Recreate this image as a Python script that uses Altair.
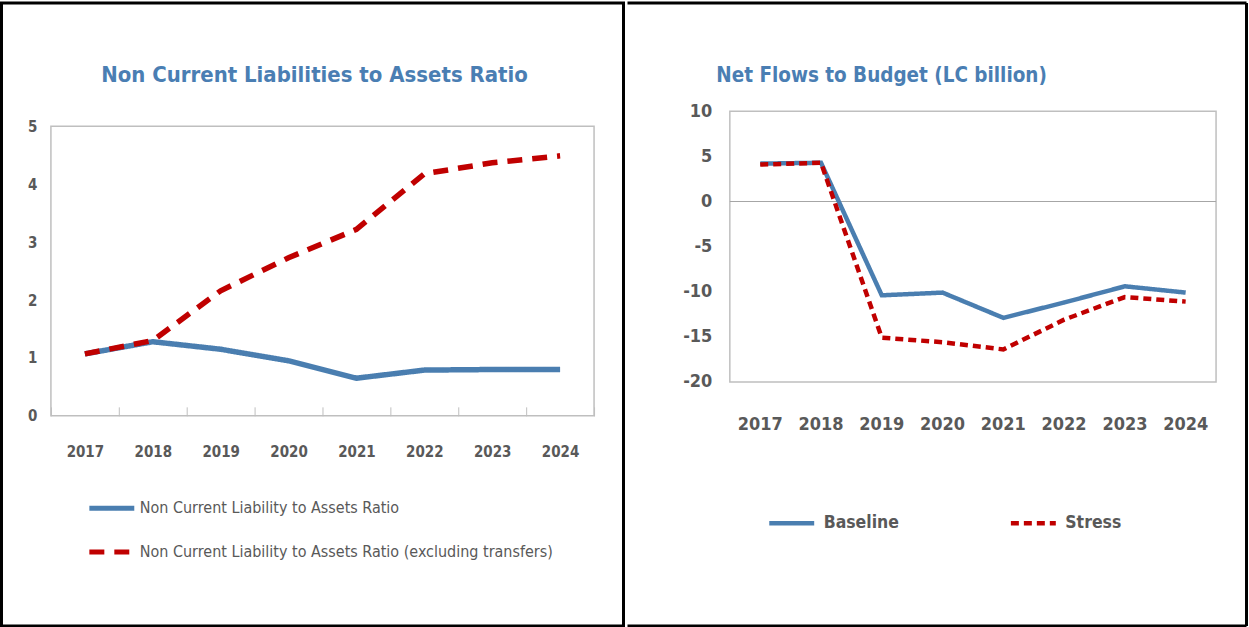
import altair as alt
import pandas as pd

# ---------------- data ----------------
years = ["2017", "2018", "2019", "2020", "2021", "2022", "2023", "2024"]

left_series = [
    "Non Current Liability to Assets Ratio",
    "Non Current Liability to Assets Ratio (excluding transfers)",
]
ncl_ratio = [1.07, 1.28, 1.15, 0.95, 0.65, 0.79, 0.80, 0.80]
ncl_ratio_ex = [1.07, 1.30, 2.16, 2.73, 3.22, 4.18, 4.37, 4.49]

right_series = ["Baseline", "Stress"]
baseline = [4.2, 4.3, -10.4, -10.1, -12.9, -11.2, -9.4, -10.1]
stress = [4.1, 4.3, -15.1, -15.6, -16.4, -13.1, -10.6, -11.1]

left_ticks = [0, 1, 2, 3, 4, 5]
right_ticks = [-20, -15, -10, -5, 0, 5, 10]

left_title = "Non Current Liabilities to Assets Ratio"
right_title = "Net Flows to Budget (LC billion)"

# ---------------- styles ----------------
FONT = "DejaVu Sans Condensed, Liberation Sans Narrow, Roboto Condensed, Roboto, sans-serif"
BLUE = "#4A7EB0"
RED = "#C00000"
GREY_TXT = "#595959"
TITLE_BLUE = "#4A7EB3"

df_left = pd.DataFrame({
    "year": years * 2,
    "value": ncl_ratio + ncl_ratio_ex,
    "series": [left_series[0]] * len(years) + [left_series[1]] * len(years),
})
df_right = pd.DataFrame({
    "year": years * 2,
    "flow": baseline + stress,
    "scenario": [right_series[0]] * len(years) + [right_series[1]] * len(years),
})
one = pd.DataFrame({"k": [0]})

# ---------------- left panel (group origin at y=110, plot box 125..415) ----------------
left_legend = alt.Legend(
    orient="none", legendX=36, legendY=372.5, direction="vertical", title=None,
    symbolType="stroke", symbolSize=2025, symbolStrokeWidth=5,
    labelFont=FONT, labelFontSize=16, labelColor=GREY_TXT, labelOffset=3,
    rowPadding=9, labelLimit=1000,
)

left_lines = alt.Chart(df_left).mark_line(strokeWidth=5.5).encode(
    x=alt.X("year:O",
            scale=alt.Scale(type="band", paddingInner=0, paddingOuter=0),
            axis=alt.Axis(title=None, domain=False, tickBand="extent", ticks=True,
                          tickSize=9, offset=-9, tickColor="#BFBFBF", tickWidth=1,
                          labelAngle=0, labelFont=FONT, labelFontSize=15,
                          labelFontWeight="bold", labelColor=GREY_TXT, labelPadding=29)),
    y=alt.Y("value:Q",
            scale=alt.Scale(domain=[0, 5], nice=False, range=[305, 15]),
            axis=alt.Axis(title=None, values=left_ticks, format="d", domain=False,
                          ticks=False, grid=False, labelPadding=14, labelFont=FONT,
                          labelFontSize=15, labelFontWeight="bold", labelColor=GREY_TXT)),
    color=alt.Color("series:N", scale=alt.Scale(domain=left_series, range=[BLUE, RED]),
                    legend=left_legend),
    strokeDash=alt.StrokeDash("series:N",
                              scale=alt.Scale(domain=left_series, range=[[1, 0], [15, 10]]),
                              legend=left_legend),
)

left_box = alt.Chart(one).mark_rect(filled=False, stroke="#BFBFBF", strokeWidth=1.5).encode(
    x=alt.value(0), x2=alt.value(544), y=alt.datum(5), y2=alt.datum(0)
)
left_frame = alt.Chart(one).mark_rect(filled=False, stroke="black", strokeWidth=3).encode(
    x=alt.value(-49.5), x2=alt.value(573.5), y=alt.value(-108.5), y2=alt.value(515.5)
)
left_title_mark = alt.Chart(one).mark_text(
    text=left_title, font=FONT, fontSize=22, fontWeight="bold", color=TITLE_BLUE,
    align="center", baseline="alphabetic"
).encode(x=alt.value(264), y=alt.value(-29))

left = alt.layer(left_frame, left_box, left_lines, left_title_mark).properties(
    width=544, height=305, view=alt.ViewBackground(strokeOpacity=0)
)

# ---------------- right panel (group origin at y=110) ----------------
right_legend = alt.Legend(
    orient="none", legendX=37, legendY=387.5, direction="horizontal", title=None,
    symbolType="stroke", symbolSize=2025, symbolStrokeWidth=4.5,
    labelFont=FONT, labelFontSize=17.5, labelFontWeight="bold", labelColor=GREY_TXT,
    labelOffset=7, columnPadding=102, labelLimit=1000,
)

right_lines = alt.Chart(df_right).mark_line(strokeWidth=4.5).encode(
    x=alt.X("year:O",
            scale=alt.Scale(type="band", paddingInner=0, paddingOuter=0),
            axis=alt.Axis(title=None, domain=False, ticks=False, labelAngle=0,
                          labelFont=FONT, labelFontSize=18, labelFontWeight="bold",
                          labelColor=GREY_TXT, labelPadding=34)),
    y=alt.Y("flow:Q",
            scale=alt.Scale(domain=[-20, 10], nice=False),
            axis=alt.Axis(title=None, values=right_ticks, labelExpr="'' + datum.value",
                          domain=False, ticks=False, grid=False, labelPadding=18,
                          labelFont=FONT, labelFontSize=18, labelFontWeight="bold",
                          labelColor=GREY_TXT)),
    color=alt.Color("scenario:N", scale=alt.Scale(domain=right_series, range=[BLUE, RED]),
                    legend=right_legend),
    strokeDash=alt.StrokeDash("scenario:N",
                              scale=alt.Scale(domain=right_series, range=[[1, 0], [8, 5]]),
                              legend=right_legend),
)

zero_rule = alt.Chart(one).mark_rule(color="#A6A6A6", strokeWidth=1).encode(y=alt.datum(0))

right_frame_top = alt.Chart(one).mark_rule(color="black", strokeWidth=3).encode(
    x=alt.value(-102.5), x2=alt.value(517.5), y=alt.value(-108.5))
right_frame_bottom = alt.Chart(one).mark_rule(color="black", strokeWidth=3).encode(
    x=alt.value(-102.5), x2=alt.value(517.5), y=alt.value(515.5))
right_frame_right = alt.Chart(one).mark_rule(color="black", strokeWidth=3).encode(
    x=alt.value(517.5), y=alt.value(-108.5), y2=alt.value(515.5))

right_title_mark = alt.Chart(one).mark_text(
    text=right_title, font=FONT, fontSize=20.5, fontWeight="bold", color=TITLE_BLUE,
    align="center", baseline="alphabetic"
).encode(x=alt.value(152), y=alt.value(-29))

right = alt.layer(right_frame_top, right_frame_bottom, right_frame_right, zero_rule,
                  right_lines, right_title_mark).properties(width=487, height=271)

chart = alt.hconcat(left, right, spacing=0, bounds="full").resolve_scale(
    color="independent", strokeDash="independent", x="independent", y="independent"
).resolve_legend(
    color="independent", strokeDash="independent"
).properties(padding=0, background="white").configure_view(
    stroke="#BFBFBF", strokeWidth=1.5
)

chart.save("out.html", embed_options={"renderer": "svg", "actions": False})
